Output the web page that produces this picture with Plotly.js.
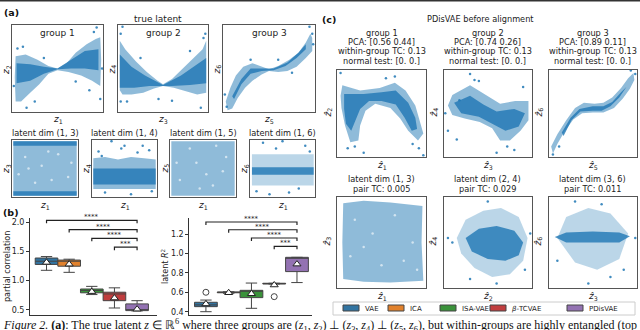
<!DOCTYPE html>
<html>
<head>
<meta charset="utf-8">
<script src="https://cdn.plot.ly/plotly-3.0.1.min.js"></script>
<style>
  body { margin: 0; background: #fff; }
  #fig { width: 640px; height: 330px; }
</style>
</head>
<body>
<div id="fig"></div>
<script>
// ---- data (cloud outlines are in each panel's own 0..1 units) ----

// (a) true latent, top row
const g1OuterX = [0.04, 0.15, 0.28, 0.4, 0.5, 0.6, 0.7, 0.82, 0.92, 0.97, 0.98, 0.97, 0.88, 0.76, 0.62, 0.5, 0.4, 0.3, 0.2, 0.1, 0.04, 0.03];
const g1OuterY = [0.64, 0.66, 0.6, 0.53, 0.5, 0.56, 0.68, 0.78, 0.84, 0.86, 0.6, 0.3, 0.36, 0.42, 0.46, 0.48, 0.44, 0.32, 0.22, 0.12, 0.12, 0.4];
const g1CoreX = [0.05, 0.2, 0.35, 0.5, 0.65, 0.8, 0.95, 0.95, 0.8, 0.65, 0.5, 0.35, 0.2, 0.05];
const g1CoreY = [0.56, 0.55, 0.52, 0.5, 0.6, 0.7, 0.72, 0.48, 0.5, 0.5, 0.49, 0.44, 0.36, 0.33];
const g1DotsX = [0.93, 0.16, 0.97, 0.06, 0.9, 0.02, 0.25, 0.85, 0.12, 0.99, 0.35, 0.7];
const g1DotsY = [0.97, 0.05, 0.15, 0.73, 0.92, 0.3, 0.12, 0.25, 0.75, 0.5, 0.62, 0.35];

const g2OuterX = [0.02, 0.08, 0.2, 0.32, 0.44, 0.5, 0.6, 0.72, 0.84, 0.94, 0.98, 0.98, 0.88, 0.75, 0.62, 0.5, 0.4, 0.28, 0.15, 0.05, 0.02];
const g2OuterY = [0.82, 0.72, 0.58, 0.46, 0.36, 0.32, 0.38, 0.5, 0.62, 0.72, 0.82, 0.22, 0.2, 0.24, 0.28, 0.3, 0.27, 0.22, 0.2, 0.2, 0.25];
const g2CoreX = [0.02, 0.15, 0.3, 0.5, 0.7, 0.85, 0.98, 0.98, 0.8, 0.6, 0.5, 0.35, 0.18, 0.02];
const g2CoreY = [0.66, 0.52, 0.42, 0.31, 0.42, 0.53, 0.62, 0.33, 0.31, 0.3, 0.3, 0.3, 0.28, 0.28];
const g2DotsX = [0.05, 0.03, 0.95, 0.92, 0.1, 0.45, 0.03, 0.97, 0.6, 0.25, 0.8];
const g2DotsY = [0.98, 0.9, 0.85, 0.05, 0.12, 0.15, 0.12, 0.9, 0.13, 0.62, 0.7];

const g3OuterX = [0.03, 0.08, 0.14, 0.22, 0.32, 0.42, 0.5, 0.6, 0.72, 0.82, 0.9, 0.95, 0.97, 0.97, 0.9, 0.8, 0.7, 0.6, 0.5, 0.42, 0.32, 0.24, 0.16, 0.1, 0.05];
const g3OuterY = [0.12, 0.28, 0.42, 0.52, 0.56, 0.52, 0.49, 0.53, 0.6, 0.68, 0.8, 0.9, 0.85, 0.7, 0.62, 0.52, 0.47, 0.46, 0.47, 0.43, 0.36, 0.28, 0.16, 0.04, 0.02];
const g3CoreX = [0.1, 0.2, 0.3, 0.42, 0.55, 0.7, 0.82, 0.9, 0.9, 0.8, 0.68, 0.55, 0.42, 0.3, 0.2, 0.12];
const g3CoreY = [0.18, 0.38, 0.5, 0.5, 0.5, 0.57, 0.68, 0.78, 0.72, 0.62, 0.53, 0.48, 0.47, 0.44, 0.32, 0.15];
const g3DotsX = [0.94, 0.98, 0.6, 0.04, 0.97, 0.02, 0.3, 0.75];
const g3DotsY = [0.98, 0.78, 0.6, 0.06, 0.9, 0.2, 0.6, 0.45];

// (a) latent dim pairs, second row
const d13OuterX = [0.02, 0.98, 0.98, 0.02];
const d13OuterY = [0.02, 0.02, 0.98, 0.98];
const d13CoreX = [0.02, 0.98, 0.98, 0.02, null, 0.02, 0.98, 0.98, 0.02];
const d13CoreY = [0.02, 0.02, 0.1, 0.1, null, 0.9, 0.9, 0.98, 0.98];
const d13DotsX = [0.2, 0.45, 0.7, 0.85, 0.1, 0.35, 0.6, 0.9, 0.25, 0.55];
const d13DotsY = [0.7, 0.55, 0.75, 0.35, 0.4, 0.25, 0.3, 0.6, 0.5, 0.8];

const d14OuterX = [0.02, 0.2, 0.4, 0.6, 0.8, 0.98, 0.98, 0.02];
const d14OuterY = [0.68, 0.7, 0.66, 0.7, 0.68, 0.66, 0.14, 0.14];
const d14CoreX = [0.02, 0.98, 0.98, 0.02];
const d14CoreY = [0.22, 0.22, 0.5, 0.5];
const d14DotsX = [0.3, 0.45, 0.1, 0.7, 0.88, 0.6, 0.2, 0.92, 0.5, 0.15, 0.78];
const d14DotsY = [0.98, 0.85, 0.8, 0.78, 0.82, 0.05, 0.08, 0.1, 0.9, 0.72, 0.9];

const d15OuterX = [0.02, 0.98, 0.98, 0.02];
const d15OuterY = [0.02, 0.02, 0.98, 0.98];
const d15DotsX = [0.15, 0.4, 0.65, 0.85, 0.3, 0.55, 0.8, 0.1, 0.45, 0.7];
const d15DotsY = [0.3, 0.6, 0.2, 0.7, 0.85, 0.4, 0.45, 0.6, 0.15, 0.9];

const d16OuterX = [0.03, 0.98, 0.98, 0.03];
const d16OuterY = [0.2, 0.2, 0.75, 0.75];
const d16CoreX = [0.03, 0.98, 0.98, 0.03];
const d16CoreY = [0.39, 0.39, 0.52, 0.52];
const d16DotsX = [0.2, 0.5, 0.1, 0.6, 0.85, 0.4, 0.75, 0.3, 0.92];
const d16DotsY = [0.95, 0.98, 0.1, 0.08, 0.9, 0.85, 0.15, 0.05, 0.8];

// (c) PDisVAE before alignment, top row
const c1OuterX = [0.04, 0.06, 0.26, 0.48, 0.65, 0.77, 0.88, 0.93, 0.97, 0.91, 0.8, 0.71, 0.6, 0.43, 0.32, 0.26, 0.24, 0.15, 0.09, 0.05];
const c1OuterY = [0.7, 0.82, 0.76, 0.79, 0.85, 0.76, 0.59, 0.42, 0.27, 0.19, 0.3, 0.44, 0.56, 0.61, 0.53, 0.36, 0.19, 0.17, 0.36, 0.56];
const c1CoreX = [0.08, 0.3, 0.5, 0.66, 0.8, 0.88, 0.9, 0.84, 0.76, 0.66, 0.5, 0.36, 0.26, 0.2, 0.16, 0.1, 0.08];
const c1CoreY = [0.72, 0.72, 0.74, 0.76, 0.62, 0.45, 0.32, 0.3, 0.45, 0.6, 0.64, 0.64, 0.55, 0.4, 0.3, 0.38, 0.55];
const c1DotsX = [0.04, 0.3, 0.12, 0.2, 0.92, 0.97, 0.65, 0.55, 0.85];
const c1DotsY = [0.96, 0.05, 0.1, 0.12, 0.1, 0.02, 0.92, 0.9, 0.15];

const c2OuterX = [0.05, 0.1, 0.3, 0.47, 0.64, 0.81, 0.96, 0.96, 0.87, 0.75, 0.64, 0.55, 0.41, 0.24, 0.1];
const c2OuterY = [0.59, 0.71, 0.82, 0.71, 0.61, 0.64, 0.64, 0.42, 0.3, 0.19, 0.19, 0.33, 0.4, 0.44, 0.48];
const c2CoreX = [0.12, 0.3, 0.45, 0.6, 0.8, 0.92, 0.85, 0.7, 0.55, 0.4, 0.2];
const c2CoreY = [0.62, 0.7, 0.6, 0.52, 0.55, 0.5, 0.35, 0.3, 0.38, 0.46, 0.5];
const c2DotsX = [0.3, 0.35, 0.02, 0.15, 0.05, 0.6, 0.72, 0.9, 0.8, 0.4, 0.18];
const c2DotsY = [0.95, 0.88, 0.5, 0.2, 0.3, 0.05, 0.12, 0.8, 0.08, 0.87, 0.65];

const c3OuterX = [0.03, 0.1, 0.2, 0.3, 0.4, 0.52, 0.62, 0.72, 0.82, 0.9, 0.96, 0.97, 0.92, 0.84, 0.74, 0.62, 0.5, 0.38, 0.28, 0.18, 0.1, 0.05];
const c3OuterY = [0.12, 0.26, 0.42, 0.56, 0.62, 0.61, 0.62, 0.68, 0.79, 0.9, 0.96, 0.88, 0.78, 0.67, 0.56, 0.51, 0.51, 0.5, 0.43, 0.29, 0.15, 0.04];
const c3CoreX = [0.15, 0.25, 0.35, 0.5, 0.62, 0.72, 0.82, 0.88, 0.8, 0.7, 0.6, 0.5, 0.36, 0.26, 0.17];
const c3CoreY = [0.28, 0.45, 0.55, 0.58, 0.58, 0.63, 0.74, 0.8, 0.68, 0.58, 0.53, 0.53, 0.52, 0.42, 0.24];
const c3DotsX = [0.05, 0.12, 0.98, 0.93];
const c3DotsY = [0.03, 0.12, 0.95, 0.99];

// (c) latent dim pairs, bottom row
const cd13OuterX = [0.07, 0.3, 0.6, 0.96, 0.95, 0.97, 0.6, 0.3, 0.07, 0.06];
const cd13OuterY = [0.93, 0.96, 0.94, 0.9, 0.5, 0.08, 0.06, 0.07, 0.1, 0.5];
const cd13DotsX = [0.2, 0.4, 0.65, 0.85, 0.15, 0.5, 0.75, 0.3, 0.9, 0.55];
const cd13DotsY = [0.75, 0.6, 0.8, 0.5, 0.35, 0.25, 0.3, 0.45, 0.2, 0.98];

const cd24OuterX = [0.15, 0.25, 0.45, 0.65, 0.85, 0.95, 0.9, 0.75, 0.55, 0.35, 0.2];
const cd24OuterY = [0.55, 0.75, 0.85, 0.88, 0.78, 0.55, 0.3, 0.15, 0.12, 0.22, 0.38];
const cd24CoreX = [0.25, 0.4, 0.6, 0.8, 0.9, 0.85, 0.7, 0.5, 0.32];
const cd24CoreY = [0.55, 0.65, 0.68, 0.63, 0.5, 0.36, 0.3, 0.32, 0.4];
const cd24DotsX = [0.1, 0.05, 0.5, 0.98, 0.6, 0.3, 0.92];
const cd24DotsY = [0.5, 0.55, 0.95, 0.6, 0.05, 0.1, 0.2];

const cd36OuterX = [0.1, 0.2, 0.45, 0.7, 0.9, 0.8, 0.55, 0.3];
const cd36OuterY = [0.55, 0.78, 0.88, 0.82, 0.6, 0.32, 0.2, 0.28];
const cd36CoreX = [0.07, 0.2, 0.5, 0.8, 0.92, 0.8, 0.5, 0.2];
const cd36CoreY = [0.56, 0.61, 0.62, 0.61, 0.57, 0.5, 0.5, 0.5];
const cd36DotsX = [0.3, 0.6, 0.1, 0.85, 0.45, 0.7, 0.98];
const cd36DotsY = [0.95, 0.92, 0.3, 0.2, 0.05, 0.12, 0.55];

// (b) box plots
const methods = ["VAE", "ICA", "ISA-VAE", "<i>β</i>-TCVAE", "PDisVAE"];
const methodPos = [0, 1, 2, 3, 4];

const pcQ1 = [1.275, 1.245, 0.79, 0.655, 0.485];
const pcMedian = [1.33, 1.33, 0.83, 0.77, 0.49];
const pcQ3 = [1.385, 1.35, 0.855, 0.80, 0.60];
const pcLow = [1.175, 1.14, 0.76, 0.53, 0.48];
const pcHigh = [1.41, 1.365, 0.90, 0.875, 0.655];
const pcMean = [1.31, 1.28, 0.81, 0.70, 0.51];
const pcTicks = [0.5, 1.0, 1.5, 2.0];

const r2Q1 = [0.452, 0.595, 0.545, 0.685, 0.813];
const r2Median = [0.47, 0.60, 0.61, 0.69, 0.96];
const r2Q3 = [0.497, 0.603, 0.62, 0.693, 0.96];
const r2Low = [0.40, 0.59, 0.435, 0.685, 0.70];
const r2High = [0.52, 0.605, 0.695, 0.693, 0.96];
const r2Mean = [0.48, 0.595, 0.585, 0.675, 0.89];
const r2OutlierX = [0, 3];
const r2OutlierY = [0.60, 0.555];
const r2Ticks = [0.4, 0.6, 0.8, 1.0, 1.2];

// significance brackets: each from a method to PDisVAE
const bracketFrom = [0, 1, 2, 3];
const bracketTo = 4;
const bracketStars = ["****", "****", "****", "***"];
const pcBracketY = [2.03, 1.87, 1.72, 1.57];
const r2BracketY = [1.324, 1.244, 1.159, 1.072];

// ---- styling ----
const boxColors = ["#3274a1", "#e1812c", "#3a923a", "#c03d3e", "#9372b2"];
const blue = "31,119,180";
const FONT = "DejaVu Sans, sans-serif";
const W = 640, H = 330;
const px = v => v / W;
const py = v => 1 - v / H;

const data = [];
const layout = {
    width: W,
    height: H,
    margin: { l: 0, r: 0, t: 0, b: 0 },
    paper_bgcolor: "#fff",
    plot_bgcolor: "rgba(0,0,0,0)",
    font: { family: FONT, size: 9, color: "#222" },
    boxmode: "overlay",
    showlegend: false,
    annotations: [],
    shapes: []
};

function axName(n) { return n === 1 ? "" : String(n); }

// framed scatter panel: box = [left, right, top, bottom] in pixels
function addScatterPanel(n, box, layers) {
    const k = axName(n);
    layout["xaxis" + k] = {
        domain: [px(box[0]), px(box[1])], range: [0, 1], anchor: "y" + k,
        showticklabels: false, ticks: "", showgrid: false, zeroline: false,
        showline: true, mirror: true, linecolor: "#555", linewidth: 1, fixedrange: true
    };
    layout["yaxis" + k] = {
        domain: [py(box[3]), py(box[2])], range: [0, 1], anchor: "x" + k,
        showticklabels: false, ticks: "", showgrid: false, zeroline: false,
        showline: true, mirror: true, linecolor: "#555", linewidth: 1, fixedrange: true
    };
    layers.forEach(([xs, ys, kind]) => {
        const t = { x: xs, y: ys, xaxis: "x" + k, yaxis: "y" + k, showlegend: false, hoverinfo: "skip" };
        if (kind === "dots") {
            Object.assign(t, { mode: "markers", marker: { size: 2.5, color: `rgba(${blue},0.85)` } });
        } else if (kind === "specks") {
            Object.assign(t, { mode: "markers", marker: { size: 2.5, color: "rgba(255,255,255,0.6)" } });
        } else {
            const a = kind === "core" ? 0.8 : (kind === "faint" ? 0.3 : 0.5);
            Object.assign(t, { mode: "lines", fill: "toself", fillcolor: `rgba(${blue},${a})`, line: { width: 0 } });
        }
        data.push(t);
    });
}

addScatterPanel(1, [12, 103, 25, 112], [[g1OuterX, g1OuterY, "outer"], [g1CoreX, g1CoreY, "core"], [g1DotsX, g1DotsY, "dots"]]);
addScatterPanel(2, [118, 208, 25, 112], [[g2OuterX, g2OuterY, "outer"], [g2CoreX, g2CoreY, "core"], [g2DotsX, g2DotsY, "dots"]]);
addScatterPanel(3, [223, 315, 25, 112], [[g3OuterX, g3OuterY, "outer"], [g3CoreX, g3CoreY, "core"], [g3DotsX, g3DotsY, "dots"]]);
addScatterPanel(4, [12, 78, 140, 197], [[d13OuterX, d13OuterY, "outer"], [d13CoreX, d13CoreY, "core"], [d13DotsX, d13DotsY, "specks"]]);
addScatterPanel(5, [92, 157, 140, 197], [[d14OuterX, d14OuterY, "outer"], [d14CoreX, d14CoreY, "core"], [d14DotsX, d14DotsY, "dots"]]);
addScatterPanel(6, [170, 236, 140, 197], [[d15OuterX, d15OuterY, "outer"], [d15DotsX, d15DotsY, "specks"]]);
addScatterPanel(7, [250, 315, 140, 197], [[d16OuterX, d16OuterY, "faint"], [d16CoreX, d16CoreY, "core"], [d16DotsX, d16DotsY, "dots"]]);
addScatterPanel(8, [337, 426, 69.5, 157], [[c1OuterX, c1OuterY, "outer"], [c1CoreX, c1CoreY, "core"], [c1DotsX, c1DotsY, "dots"]]);
addScatterPanel(9, [443.5, 532, 69.5, 157], [[c2OuterX, c2OuterY, "outer"], [c2CoreX, c2CoreY, "core"], [c2DotsX, c2DotsY, "dots"]]);
addScatterPanel(10, [548.5, 637, 69.5, 157], [[c3OuterX, c3OuterY, "outer"], [c3CoreX, c3CoreY, "core"], [c3DotsX, c3DotsY, "dots"]]);
addScatterPanel(11, [337, 426, 197, 288], [[cd13OuterX, cd13OuterY, "outer"], [cd13DotsX, cd13DotsY, "specks"]]);
addScatterPanel(12, [443.5, 532, 197, 288], [[cd24OuterX, cd24OuterY, "faint"], [cd24CoreX, cd24CoreY, "core"], [cd24DotsX, cd24DotsY, "dots"]]);
addScatterPanel(13, [548.5, 637, 197, 288], [[cd36OuterX, cd36OuterY, "faint"], [cd36CoreX, cd36CoreY, "core"], [cd36DotsX, cd36DotsY, "dots"]]);

// box plot panel
function addBoxPanel(n, box, yRange, xRange, ticks, stats) {
    const k = axName(n);
    layout["xaxis" + k] = {
        domain: [px(box[0]), px(box[1])], range: xRange, anchor: "y" + k,
        showticklabels: false, ticks: "", showgrid: false, zeroline: false,
        showline: true, linecolor: "#333", linewidth: 1, fixedrange: true
    };
    layout["yaxis" + k] = {
        domain: [py(box[3]), py(box[2])], range: yRange, anchor: "x" + k,
        tickvals: ticks, tickformat: ".1f", ticks: "outside", ticklen: 3, tickwidth: 1,
        tickcolor: "#333", tickfont: { size: 8, family: FONT, color: "#222" },
        showgrid: false, zeroline: false, showline: true, linecolor: "#333", linewidth: 1,
        fixedrange: true
    };
    methods.forEach((m, i) => {
        data.push({
            type: "box", name: m, x: [methodPos[i]],
            q1: [stats.q1[i]], median: [stats.med[i]], q3: [stats.q3[i]],
            lowerfence: [stats.low[i]], upperfence: [stats.high[i]],
            xaxis: "x" + k, yaxis: "y" + k,
            width: 1.0, whiskerwidth: 0.5,
            fillcolor: boxColors[i], line: { color: "#444", width: 1 },
            showlegend: false, hoverinfo: "skip"
        });
    });
    data.push({
        x: methodPos, y: stats.mean, xaxis: "x" + k, yaxis: "y" + k, mode: "markers",
        marker: { symbol: "triangle-up", size: 7, color: "#fff", line: { color: "#222", width: 1 } },
        showlegend: false, hoverinfo: "skip", cliponaxis: false
    });
    // significance brackets
    const tick = (yRange[1] - yRange[0]) * 0.03;
    bracketFrom.forEach((b, j) => {
        const yb = stats.bracketY[j];
        data.push({
            x: [methodPos[b], methodPos[b], methodPos[bracketTo], methodPos[bracketTo]],
            y: [yb - tick, yb, yb, yb - tick],
            xaxis: "x" + k, yaxis: "y" + k, mode: "lines",
            line: { color: "#222", width: 1.2 }, showlegend: false, hoverinfo: "skip", cliponaxis: false
        });
        layout.annotations.push({
            xref: "x" + k, yref: "y" + k, x: (methodPos[b] + methodPos[bracketTo]) / 2, y: yb,
            text: bracketStars[j], showarrow: false, yanchor: "bottom", yshift: -3,
            font: { size: 7, family: FONT, color: "#222" }
        });
    });
}

addBoxPanel(14, [30, 157, 218, 315], [0.41, 2.07], [-0.73, 4.88], pcTicks,
    { q1: pcQ1, med: pcMedian, q3: pcQ3, low: pcLow, high: pcHigh, mean: pcMean, bracketY: pcBracketY });
addBoxPanel(15, [189.3, 312, 218, 315], [0.366, 1.365], [-0.73, 4.66], r2Ticks,
    { q1: r2Q1, med: r2Median, q3: r2Q3, low: r2Low, high: r2High, mean: r2Mean, bracketY: r2BracketY });

data.push({
    x: r2OutlierX, y: r2OutlierY, xaxis: "x15", yaxis: "y15", mode: "markers",
    marker: { symbol: "circle-open", size: 6, color: "#444", line: { width: 1 } },
    showlegend: false, hoverinfo: "skip"
});

// ---- text ----
function txt(x, y, text, opts = {}) {
    layout.annotations.push(Object.assign({
        xref: "paper", yref: "paper", x: px(x), y: py(y), text: text, showarrow: false,
        xanchor: "center", yanchor: "middle",
        font: { size: 9, family: FONT, color: "#222" }
    }, opts));
}
const small = { font: { size: 8.2, family: FONT, color: "#222" } };
const z = (i, hat) => `<i>${hat ? "ẑ" : "z"}</i><sub>${i}</sub>`;
const rot = { textangle: -90 };

txt(2, 12, "<b>(a)</b>", { xanchor: "left", font: { size: 9.5, family: FONT, color: "#111" } });
txt(158, 19, "true latent");
[[57.5, 1], [163, 3], [269, 5]].forEach(([cx, a], i) => {
    txt(cx, 33, "group " + (i + 1));
    txt(cx, 119, z(a));
});
txt(6, 70, z(2), rot);
txt(111.5, 70, z(4), rot);
txt(216.5, 70, z(6), rot);

[[45, 3], [124.5, 4], [203, 5], [282.5, 6]].forEach(([cx, d]) => {
    txt(cx, 133, `latent dim (1, ${d})`, small);
    txt(cx, 205, z(1));
});
txt(6, 169, z(3), rot);
txt(86, 169, z(4), rot);
txt(164.5, 169, z(5), rot);
txt(244, 169, z(6), rot);

txt(1, 212, "<b>(b)</b>", { xanchor: "left", font: { size: 9.5, family: FONT, color: "#111" } });
txt(7, 267, "partial correlation", Object.assign({ font: { size: 8, family: FONT, color: "#222" } }, rot));
txt(165, 267, "latent <i>R</i><sup>2</sup>", Object.assign({ font: { size: 8, family: FONT, color: "#222" } }, rot));

txt(320, 20, "<b>(c)</b>", { xanchor: "left", font: { size: 9.5, family: FONT, color: "#111" } });
txt(480, 19, "PDisVAE before alignment", small);
const pcaText = ["[0.56 0.44]", "[0.74 0.26]", "[0.89 0.11]"];
[381.5, 487.7, 592.7].forEach((cx, i) => {
    txt(cx, 33, "group " + (i + 1), small);
    txt(cx, 42, "PCA: " + pcaText[i], small);
    txt(cx, 51.5, "within-group TC: 0.13", small);
    txt(cx, 60.5, "normal test: [0. 0.]", small);
    txt(cx, 165, z(2 * i + 1, true));
});
txt(327.5, 113, z(2, true), rot);
txt(433.5, 113, z(4, true), rot);
txt(538.5, 113, z(6, true), rot);

const pairText = [["(1, 3)", "0.005", 1], ["(2, 4)", "0.029", 2], ["(3, 6)", "0.011", 3]];
[381.5, 487.7, 592.7].forEach((cx, i) => {
    txt(cx, 179, "latent dim " + pairText[i][0], small);
    txt(cx, 189, "pair TC: " + pairText[i][1], small);
    txt(cx, 296, z(pairText[i][2], true));
});
txt(327.5, 242, z(3, true), rot);
txt(433.5, 242, z(4, true), rot);
txt(538.5, 242, z(6, true), rot);

// legend for the box plots, drawn under panel (c)
layout.shapes.push({ type: "rect", xref: "paper", yref: "paper", x0: px(333), x1: px(635), y0: py(315), y1: py(302),
    fillcolor: "#fff", line: { color: "#cccccc", width: 1 } });
const legendX = [343, 388, 440, 490, 567];
methods.forEach((m, i) => {
    layout.shapes.push({ type: "rect", xref: "paper", yref: "paper", x0: px(legendX[i]), x1: px(legendX[i] + 16),
        y0: py(311), y1: py(305), fillcolor: boxColors[i], line: { color: "#444", width: 1 } });
    txt(legendX[i] + 20, 308.5, m, { xanchor: "left", font: { size: 7, family: FONT, color: "#222" } });
});

// caption, cut off by the bottom edge as in the source
txt(1, 325.5, "<i>Figure 2.</i> <b>(a)</b>: The true latent <i>z</i> ∈ ℝ<sup>6</sup> where three groups are (<i>z</i><sub>1</sub>, <i>z</i><sub>2</sub>) ⊥ (<i>z</i><sub>3</sub>, <i>z</i><sub>4</sub>) ⊥ (<i>z</i><sub>5</sub>, <i>z</i><sub>6</sub>), but within-groups are highly entangled (top",
    { xanchor: "left", font: { size: 12, family: "Liberation Serif, serif", color: "#111" } });

// thin dark rule along the top edge
layout.shapes.push({ type: "rect", xref: "paper", yref: "paper", x0: 0, x1: 1, y0: py(1.5), y1: 1, fillcolor: "#333", line: { width: 0 } });

Plotly.newPlot("fig", data, layout, { displayModeBar: false, staticPlot: true });
</script>
</body>
</html>
